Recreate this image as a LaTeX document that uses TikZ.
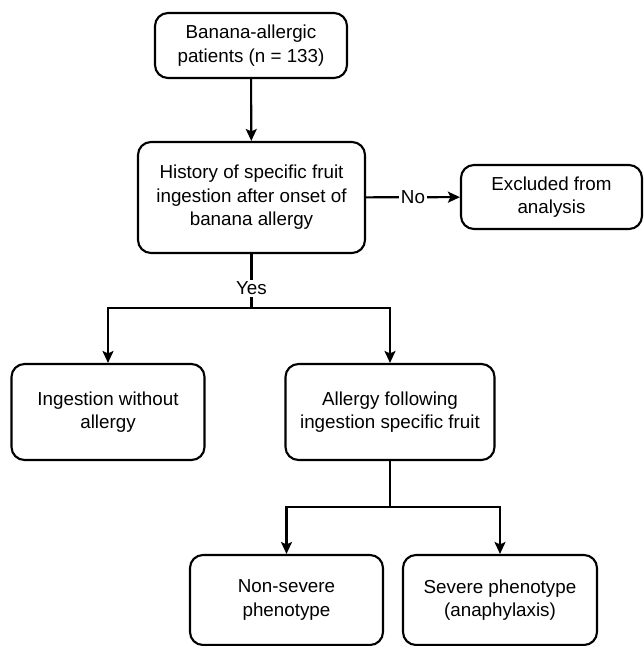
\documentclass[tikz,border=0pt]{standalone}
\usepackage{fontspec}
\setmainfont{Liberation Sans}
\usetikzlibrary{arrows.meta}

\tikzset{
	box/.style={draw,rounded corners=0.26cm,line width=1.2pt,align=center,
		font=\fontsize{10.7}{13.3}\selectfont,inner sep=0pt},
	arr/.style={line width=1.2pt,-{Stealth[length=0.24cm,width=0.22cm,inset=0.05cm]}},
	lbl/.style={fill=white,inner sep=1pt,font=\fontsize{10.7}{13.3}\selectfont}
}

\begin{document}
\begin{tikzpicture}
		\useasboundingbox (0,0) rectangle (12.88,-12.92);
		\node[box,minimum width=3.84cm,minimum height=1.30cm] (start) at (5.02,-0.91) {Banana-allergic\\patients (n = 133)};
		\node[box,minimum width=4.54cm,minimum height=2.22cm] (hist) at (5.03,-3.95) {History of specific fruit\\ingestion after onset of\\banana allergy};
		\node[box,minimum width=3.62cm,minimum height=1.28cm] (excl) at (11.03,-3.94) {Excluded from\\analysis};
		\node[box,minimum width=3.86cm,minimum height=1.92cm] (ingest) at (2.16,-8.24) {Ingestion without\\allergy};
		\node[box,minimum width=4.18cm,minimum height=1.92cm] (allerg) at (7.8,-8.24) {Allergy following\\ingestion specific fruit};
		\node[box,minimum width=3.86cm,minimum height=1.80cm] (nonsev) at (5.73,-12.0) {Non-severe\\phenotype};
		\node[box,minimum width=3.88cm,minimum height=1.80cm] (sev) at (10.0,-12.0) {Severe phenotype\\(anaphylaxis)};
		
		\coordinate (split1) at (5.03,-6.16);
		\coordinate (split2) at (7.8,-10.14);
		
		\draw[arr] (start) -- (hist);
		\draw[arr] (hist) -- node[lbl] {No} (excl);
		\draw[line width=1.2pt] (hist) -- node[lbl,pos=0.64] {Yes} (split1);
		\draw[arr] (split1) -| (ingest);
		\draw[arr] (split1) -| (allerg);
		
		\draw[line width=1.2pt] (allerg) -- (split2);
		\draw[arr] (split2) -| (nonsev);
		\draw[arr] (split2) -| (sev);
	\end{tikzpicture}
\end{document}
